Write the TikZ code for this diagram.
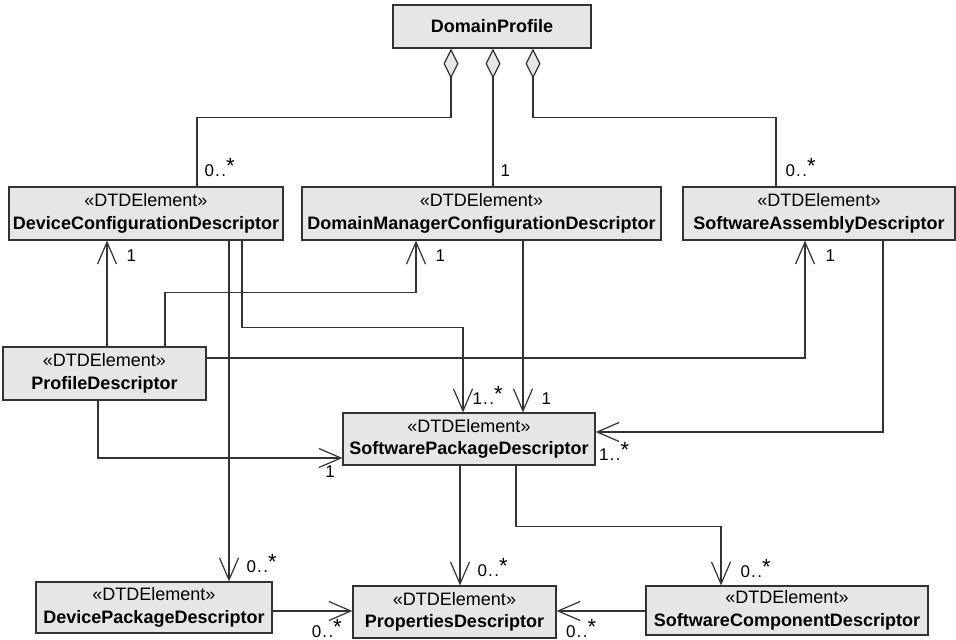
\documentclass[tikz,border=0pt]{standalone}
\usepackage{fontspec}
\setmainfont{Liberation Sans}
\usepackage{tikz}
\usetikzlibrary{arrows.meta,positioning}
\usepackage{xcolor}

\definecolor{boxgray}{HTML}{E6E6E6}
\definecolor{linegray}{HTML}{333333}

% multiplicity "n..*"
\newcommand{\manyof}[1]{#1\kern1pt.\kern1.5pt.\raisebox{3pt}{\fontsize{22}{22}\selectfont *}}

\begin{document}
\begin{tikzpicture}[x=1pt,y=-1pt,
    cls/.style={draw=linegray,fill=boxgray,line width=1.2pt,align=center,inner sep=0pt,
        font=\fontsize{18}{22.6}\selectfont},
    mult/.style={font=\fontsize{17}{17}\selectfont,inner sep=0pt,text=black},
    nav/.style={line width=1.2pt,draw=linegray,-{Straight Barb[length=22pt,width=19pt]}},
    agg/.style={line width=1.2pt,draw=linegray,{Diamond[length=30pt,width=15pt,fill=boxgray]}-}]

    % bidang gambar
    \path[fill=white,use as bounding box] (0,0) rectangle (956,640);

    % kelas-kelas
    \node[cls,minimum width=198pt,minimum height=43pt] (dp) at (492,26.5) {\textbf{DomainProfile}};
    \node[cls,minimum width=274pt,minimum height=53pt] (dcd) at (146,213.5) {«DTDElement»\\\textbf{DeviceConfigurationDescriptor}};
    \node[cls,minimum width=359pt,minimum height=53pt] (dmcd) at (481.5,213.5) {«DTDElement»\\\textbf{DomainManagerConfigurationDescriptor}};
    \node[cls,minimum width=272pt,minimum height=53pt] (sad) at (819,213.5) {«DTDElement»\\\textbf{SoftwareAssemblyDescriptor}};
    \node[cls,minimum width=203pt,minimum height=53pt] (pd) at (104.5,373.5) {«DTDElement»\\\textbf{ProfileDescriptor}};
    \node[cls,minimum width=252pt,minimum height=52pt] (spd) at (469,439) {«DTDElement»\\\textbf{SoftwarePackageDescriptor}};
    \node[cls,minimum width=236pt,minimum height=51pt] (dpd) at (154,607.5) {«DTDElement»\\\textbf{DevicePackageDescriptor}};
    \node[cls,minimum width=203pt,minimum height=52pt] (propd) at (454.5,612) {«DTDElement»\\\textbf{PropertiesDescriptor}};
    \node[cls,minimum width=282pt,minimum height=49pt] (scd) at (787,610.5) {«DTDElement»\\\textbf{SoftwareComponentDescriptor}};

    % agregasi dari DomainProfile
    \draw[agg] ([xshift=-41pt]dp.south) -- ++(0,69) -| ([xshift=51pt]dcd.north)
        node[mult,anchor=base west,xshift=7pt,yshift=10pt] {\manyof{0}};
    \draw[agg] ([xshift=1pt]dp.south) -- ([xshift=1pt]dp.south |- dmcd.north)
        node[mult,anchor=base west,xshift=7pt,yshift=10pt] {1};
    \draw[agg] ([xshift=41pt]dp.south) -- ++(0,69) -| ([xshift=-43pt]sad.north)
        node[mult,anchor=base west,xshift=9pt,yshift=10pt] {\manyof{0}};

    % asosiasi dari ProfileDescriptor
    \draw[nav] ([xshift=2.5pt]pd.north) -- ([xshift=2.5pt]pd.north |- dcd.south)
        node[mult,anchor=base west,xshift=19pt,yshift=-21pt] {1};
    \draw[nav] ([xshift=60.5pt]pd.north) -- ++(0,-54) -| ([xshift=-65.5pt]dmcd.south)
        node[mult,anchor=base west,xshift=19pt,yshift=-21pt] {1};
    \draw[nav] ([yshift=15.5pt]pd.east) -| ([xshift=-14pt]sad.south)
        node[mult,anchor=base west,xshift=20pt,yshift=-21pt] {1};
    \draw[nav] ([xshift=-6.5pt]pd.south) |- ([yshift=-19pt]spd.west)
        node[mult,anchor=base east,xshift=-7pt,yshift=-19pt] {1};

    % asosiasi dari DeviceConfigurationDescriptor
    \draw[nav] ([xshift=83pt]dcd.south) -- ([xshift=83pt]dcd.south |- dpd.north)
        node[mult,anchor=base west,xshift=17pt,yshift=9pt] {\manyof{0}};
    \draw[nav] ([xshift=96pt]dcd.south) -- ++(0,87) -| ([xshift=-6pt]spd.north)
        node[mult,anchor=base west,xshift=9pt,yshift=8pt] {\manyof{1}};

    % ke SoftwarePackageDescriptor
    \draw[nav] ([xshift=54pt]spd.north |- dmcd.south) -- ([xshift=54pt]spd.north)
        node[mult,anchor=base west,xshift=18pt,yshift=8pt] {1};
    \draw[nav] ([xshift=64pt]sad.south) |- ([yshift=7pt]spd.east)
        node[mult,anchor=base west,xshift=3pt,yshift=-28pt] {\manyof{1}};

    % dari SoftwarePackageDescriptor
    \draw[nav] ([xshift=-9pt]spd.south) -- ([xshift=-9pt]spd.south |- propd.north)
        node[mult,anchor=base west,xshift=17pt,yshift=9pt] {\manyof{0}};
    \draw[nav] ([xshift=47pt]spd.south) -- ++(0,61) -| ([xshift=-66pt]scd.north)
        node[mult,anchor=base west,xshift=19pt,yshift=8pt] {\manyof{0}};

    % ke PropertiesDescriptor
    \draw[nav] ([yshift=-3.5pt]dpd.east) -- ([yshift=-3.5pt]dpd.east -| propd.west)
        node[mult,anchor=base east,xshift=-10pt,yshift=-26pt] {\manyof{0}};
    \draw[nav] ([yshift=-0.5pt]scd.west) -- ([yshift=-0.5pt]scd.west -| propd.east)
        node[mult,anchor=base west,xshift=9pt,yshift=-26pt] {\manyof{0}};

\end{tikzpicture}
\end{document}
